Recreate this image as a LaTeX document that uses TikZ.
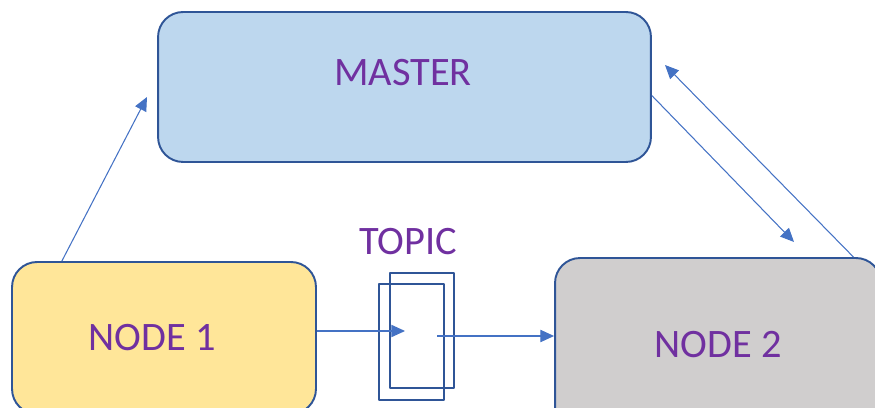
\documentclass[tikz,border=0pt]{standalone}
\usepackage{fontspec}
\setmainfont{Carlito}
\usetikzlibrary{arrows.meta}
\definecolor{boxline}{HTML}{2F5597}
\definecolor{linkblue}{HTML}{4472C4}
\definecolor{txtpurple}{HTML}{7030A0}
\definecolor{masterfill}{HTML}{BDD7EE}
\definecolor{nodeonefill}{HTML}{FFE699}
\definecolor{nodetwofill}{HTML}{D0CECE}
\begin{document}
\begin{tikzpicture}[x=0.02cm, y=-0.02cm, line join=round, >={Triangle[length=7.8pt,width=7pt]},
  box/.style={draw=boxline, line width=1.1pt, rounded corners=0.5cm, inner sep=0pt},
  topicbox/.style={draw=boxline, line width=1.2pt, inner sep=0pt, minimum width=1.29cm, minimum height=2.31cm},
  lbl/.style={text=txtpurple, inner sep=0pt, font=\fontsize{23}{27}\selectfont},
  link/.style={->, draw=linkblue, line width=0.6pt}]
\useasboundingbox (0,0) rectangle (875,408);
\clip (0,0) rectangle (875,408);
\node[box, fill=masterfill, minimum width=9.86cm, minimum height=3cm] (master) at (404.5,87) {};
\node[box, fill=nodeonefill, minimum width=6.08cm, minimum height=3.04cm] (node1) at (164,338) {};
\node[box, fill=nodetwofill, minimum width=6.52cm, minimum height=3.48cm] (node2) at (718,345) {};
\node[topicbox] (topicb) at (422,330.5) {};
\node[topicbox] (topicf) at (411.5,342) {};
\node[lbl] (mastertxt) at (403,73) {MASTER};
\node[lbl] (node1txt) at (152,338) {NODE 1};
\node[lbl] (node2txt) at (718,345) {NODE 2};
\node[lbl] (topictxt) at (408,242) {TOPIC};
\coordinate (up) at (147,97);
\coordinate (down) at (794,242);
\coordinate (back) at (665,65);
\coordinate (tin) at (405,331);
\coordinate (tout) at (437,336);
\draw[link] (node1.143) -- (up);
\draw[link] (master.-2.3) -- (down);
\draw[link] (node2.33.2) -- (back);
\draw[link] (node1.east |- tin) -- (tin);
\draw[link] (tout) -- (node2.west |- tout);
\end{tikzpicture}
\end{document}
